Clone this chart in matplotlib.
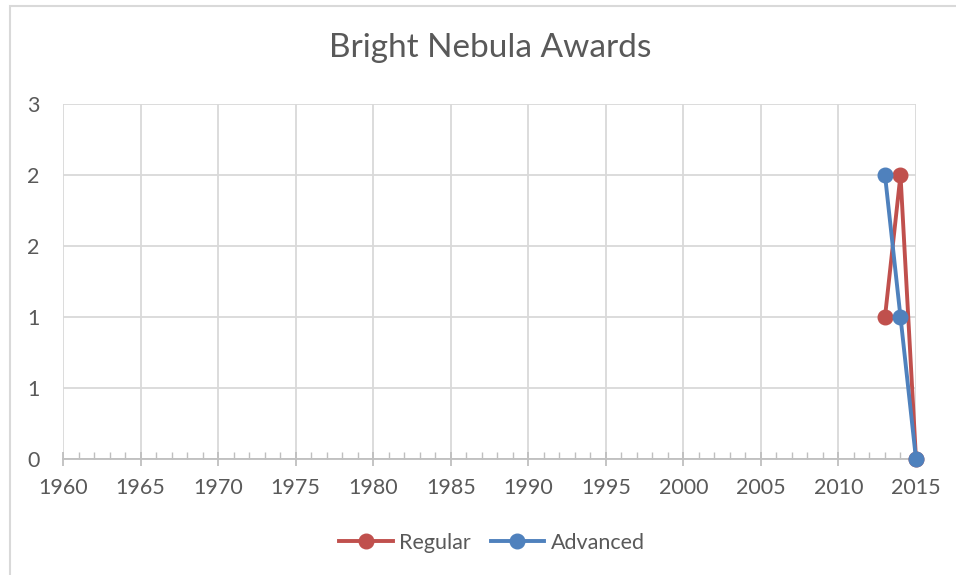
import numpy as np
import matplotlib.pyplot as plt
from matplotlib.patches import Rectangle
from matplotlib.ticker import MultipleLocator

plt.rcParams['font.family'] = ['Lato', 'DejaVu Sans']

# data
years = [2013, 2014, 2015]
regular = [1, 2, 0]
advanced = [2, 1, 0]
y_ticks = [0, 0.5, 1, 1.5, 2, 2.5]
y_labels = ["0", "1", "1", "2", "2", "3"]
x_ticks = list(range(1960, 2016, 5))

grid_col = "#d9d9d9"
text_col = "#595959"

fig = plt.figure(figsize=(9.56, 5.75), dpi=100)
# chart border (cut off on right/bottom in the original)
fig.patches.append(Rectangle((10 / 956, -0.05), 1.1, 1 - 6 / 575 + 0.05,
                             transform=fig.transFigure, fill=False,
                             edgecolor="#d9d9d9", linewidth=1.5))

ax = fig.add_axes([63 / 956, 1 - 459 / 575, 853 / 956, 355 / 575])

ax.plot(years, regular, color="#C0504D", lw=2.8, marker="o", ms=10.5, label="Regular", clip_on=False, zorder=3)
ax.plot(years, advanced, color="#4F81BD", lw=2.8, marker="o", ms=10.5, label="Advanced", clip_on=False, zorder=4)

ax.set_xlim(1960, 2015)
ax.set_ylim(0, 2.5)
ax.set_xticks(x_ticks)
ax.xaxis.set_minor_locator(MultipleLocator(1))
ax.set_yticks(y_ticks)
ax.set_yticklabels(y_labels)

ax.grid(True, which="major", color=grid_col, lw=1.3)
ax.set_axisbelow(True)
for s in ["top", "right", "left"]:
    ax.spines[s].set_visible(False)
ax.spines["bottom"].set_color("#bfbfbf")
ax.spines["bottom"].set_linewidth(1.3)

ax.tick_params(axis="x", which="major", direction="inout", length=10, width=1.3,
               color="#bfbfbf", labelsize=15.5, labelcolor=text_col, pad=9)
ax.tick_params(axis="x", which="minor", direction="in", length=5, width=1.0, color="#bfbfbf")
ax.tick_params(axis="y", length=0, labelsize=15.5, labelcolor=text_col, pad=17)

fig.text(490 / 956, 1 - 48 / 575, "Bright Nebula Awards", ha="center", va="center",
         fontsize=24, color=text_col)

fig.legend(loc="center", bbox_to_anchor=(492 / 956, 1 - 543 / 575), ncol=2, frameon=False,
           fontsize=15.5, labelcolor=text_col, handlelength=2.5, columnspacing=0.9,
           handletextpad=0.3)

fig.savefig("out.png", dpi=100)
